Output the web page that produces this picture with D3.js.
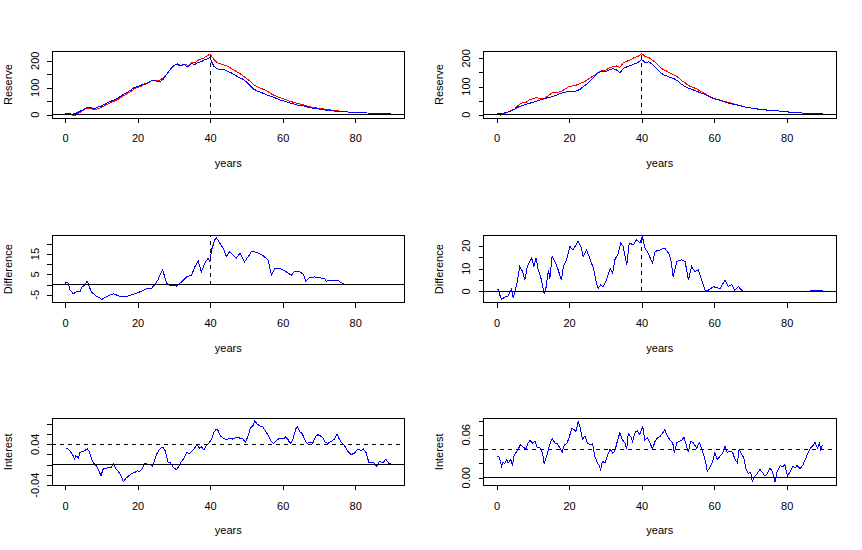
<!DOCTYPE html>
<html>
<head>
<meta charset="utf-8">
<script src="https://cdn.jsdelivr.net/npm/d3@7"></script>
<style>
  body { margin: 0; background: #fff; }
  text { font-family: Arial, "Liberation Sans", sans-serif; font-size: 11px; fill: #000; }
</style>
</head>
<body>
<div id="vis"></div>
<script>
const FRAME_WIDTH = 862;
const FRAME_HEIGHT = 550;

// x axis shared by every panel (years 0..90, R style 4% padding)
const X_TICKS = [0, 20, 40, 60, 80];

// ---- Reserve, left column ----
const reserveLeftRed = [[0,2.5],[1,3],[2,-2],[3,-2],[4,8],[5,16],[6,25],[7,24],[8,18],[9,22],[10,27],
  [11,35],[12,41],[13,47],[14,53],[15,60],[16,70],[17,77],[18,85],[19,95],[20,101],[21,106],[22,113],
  [23,118],[24,127],[25,125],[26,126],[27,136],[28,150],[29,168],[30,182],[31,188],[32,181],[33,188],
  [34,182],[35,195],[36,195],[37,205],[38,208],[39,217],[40,225],[41,205],[42,193],[43,188],[44,184],
  [45,178],[46,170],[47,162],[48,154],[49,145],[50,135],[51,124],[52,111],[53,104],[54,98],[55,92],
  [56,85],[57,76],[58,70],[59,64],[60,60],[61,55],[62,50],[63,46],[64,42],[65,39],[66,36],[67,31],
  [68,28],[69,26],[70,24],[71,22],[72,19],[73,18],[74,16],[75,15],[76,13],[77,12]];
const reserveLeftBlue = [[0,3],[1,4],[2,2],[3,5],[4,12],[5,18],[6,26],[7,26],[8,22],[9,28],[10,32],
  [11,40],[12,46],[13,52],[14,58],[15,65],[16,75],[17,82],[18,90],[19,100],[20,105],[21,110],[22,115],
  [23,120],[24,128],[25,125],[26,122],[27,130],[28,150],[28.5,158],[29,168],[29.5,176],[30,182],
  [30.5,186],[31,188],[31.5,182],[32,180],[32.5,186],[33,185],[33.5,178],[34,178],[34.5,186],[35,190],
  [35.5,186],[36,188],[36.5,192],[37,195],[37.5,196],[38,200],[38.5,204],[39,206],[39.5,208],[40,213],
  [40.3,200],[41,180],[42,170],[43,168],[44,166],[45,160],[46,154],[47,146],[48,138],[49,132],[50,122],
  [51,108],[52,95],[53,88],[54,83],[55,77],[56,72],[57,67],[58,62],[59,56],[60,52],[61,48],[62,43],
  [63,40],[64,36],[65,34],[66,32],[67,28],[68,25],[69,23],[70,21],[71,19],[72,17],[73,16],[74,14],
  [75,13],[76,12],[78,10],[80,8],[84,6],[84.2,4],[90,3]];

// ---- Reserve, right column ----
const reserveRightRed = [[0,4],[1,-2],[2,4],[3,8],[4,14],[5,20],[6,33],[7,42],[8,42],[9,52],[10,57],
  [11,60],[12,58],[13,55],[14,65],[15,75],[16,80],[17,80],[18,84],[19,92],[20,100],[21,102],[22,105],
  [23,111],[24,115],[25,123],[26,132],[27,140],[28,150],[29,157],[30,157],[31,166],[32,170],[33,173],
  [34,168],[35,185],[36,190],[37,195],[38,203],[39,207],[40,217],[41,206],[42,203],[43,193],[44,183],
  [45,170],[46,160],[47,154],[48,147],[49,140],[50,133],[51,121],[52,113],[53,103],[54,97],[55,93],
  [56,85],[57,78],[58,70],[59,63],[60,58],[61,54],[62,50],[63,47],[64,43],[65,40],[66,36],[67,33],[68,30]];
const reserveRightBlue = [[0,3],[1,4],[2,6],[3,9],[4,13],[5,20],[6,27],[7,32],[8,36],[9,40],[10,44],
  [11,48],[12,52],[13,56],[14,60],[15,63],[16,67],[17,72],[18,77],[19,80],[20,82],[21,83],[22,84],
  [23,90],[24,100],[25,110],[26,122],[27,135],[28,148],[29,155],[30,152],[31,158],[32,163],[33,160],
  [34,148],[35,165],[36,170],[37,175],[38,180],[39,185],[40,196],[41,185],[42,188],[43,178],[44,165],
  [45,152],[46,142],[47,137],[48,132],[49,127],[50,120],[51,108],[52,100],[53,94],[54,89],[55,84],
  [56,79],[57,74],[58,68],[59,62],[60,57],[61,53],[62,49],[63,45],[64,41],[65,38],[66,35],[67,32],
  [68,29],[69,26],[70,24],[71,22],[72,20],[73,19],[74,17],[75,16],[76,15],[78,13],[80,11],[81,8],
  [84,6],[90,3]];

// ---- Difference ----
const diffLeft = [[0,0.5],[0.5,1.3],[0.9,0.5],[1.4,-2.8],[2.3,-4.5],[3.2,-3.3],[4.1,-3.6],[4.6,-1.2],
  [5.5,-0.3],[6.1,1.7],[6.7,-1.2],[7.3,-3.6],[8.3,-5.3],[9.6,-6.6],[10.1,-7.3],[11.5,-5.8],[13.3,-4.5],
  [15.1,-5.8],[17,-5.8],[18.8,-4.8],[20.6,-3.6],[22.5,-2],[23.9,-1.7],[24.8,0],[25.7,2.6],[26.1,4.6],
  [26.9,7.1],[27.5,3.8],[28,0.5],[28.9,-0.3],[30.7,-0.7],[32.1,1.3],[33.5,3.8],[34.9,4.6],[35.8,8.8],
  [36.7,11.6],[37.6,6.3],[38.5,10.4],[39.4,12.9],[39.9,11.2],[40.4,17],[41.3,22],[41.7,23.1],[42.7,20.3],
  [43.6,17.9],[44.5,13.7],[45.4,16.2],[46.3,14.5],[47.2,12.9],[48.2,15.4],[49.5,11.2],[50.5,13.7],
  [51.4,16.2],[52.8,15.9],[54.6,14.2],[56,12],[56.9,4.6],[57.8,7.9],[59.2,7.9],[61,6.3],[62.4,4.6],
  [63.3,6.6],[64.7,6.3],[65.8,5],[66.3,1.7],[67.4,3.3],[68.8,3.8],[70.2,3.3],[71.6,3],[72,1.7],
  [73.9,2.1],[75.2,2.1],[76.1,1],[77,0.2]];
const diffRight = [[0,0.6],[0.5,1],[0.9,-1.6],[1.4,-3.4],[2.3,-2.4],[3.2,-1.9],[3.7,0],[4.1,1],[4.6,-2.8],
  [5.1,0],[5.7,4.3],[6.4,10.9],[7.2,8.7],[7.8,5],[8.5,10.9],[9.2,13.1],[9.7,14.6],[10.3,10.9],[10.9,14.6],
  [11.5,9.4],[12.4,5],[13.1,-0.9],[13.6,1.3],[14.3,9.4],[14.7,5.7],[15.3,15.3],[16.1,13.1],[17,9.4],
  [17.9,5],[18.4,10.9],[19.3,13.8],[20.2,19.7],[21.1,18.2],[22.5,21.9],[23.4,19],[23.9,15.3],[24.8,18.2],
  [25.7,14.6],[26.7,10.1],[27.6,3.5],[28,1.3],[28.7,2.8],[29.4,2.1],[30.3,5],[31.3,10.1],[32,7.9],
  [32.6,13.8],[33.6,16.8],[34.2,21.2],[34.9,19.7],[35.9,11.6],[36.6,21.2],[37.7,20.4],[38.6,22.6],
  [39.5,21.2],[40.2,24.1],[40.9,19],[41.8,16.8],[43,12.4],[43.7,17.5],[45.1,18.2],[46.4,19],[47.4,16.8],
  [48,14.6],[48.7,6.5],[49.7,13.1],[51,13.8],[52,13.1],[52.9,5],[53.8,10.9],[54.7,8.7],[55.6,9.4],
  [56.6,5],[57.5,0.6],[58.4,0.6],[59.8,2.1],[61.6,1.3],[63,5],[63.9,2.1],[64.8,3.1],[65.7,0.6],
  [66.7,2.1],[67.6,0.6],[68,0.3],[68.5,NaN],[86.4,0.4],[90,0.4]];

// ---- Interest ----
const interestLeft = [[0.2,0.0312],[0.9,0.0306],[1.4,0.026],[2.1,0.0195],[2.6,0.011],[3,0.0176],
  [3.7,0.013],[4.1,0.024],[4.9,0.026],[5.5,0.028],[6.1,0.031],[6.7,0.026],[7.3,0.011],[8,0.002],
  [8.7,-0.003],[9.4,-0.013],[9.9,-0.0215],[10.6,-0.0065],[11.3,-0.0085],[11.9,-0.0046],[12.6,-0.0065],
  [13.3,0.002],[14,-0.0085],[14.7,-0.013],[15.3,-0.0195],[16.1,-0.033],[16.8,-0.026],[17.4,-0.0228],
  [18.3,-0.0176],[19.3,-0.015],[19.9,-0.0117],[20.6,-0.013],[21.4,-0.0065],[22,0.0033],[22.9,0],
  [23.6,0],[24.1,-0.003],[24.8,0.011],[25.4,0.0228],[26.1,0.0306],[26.9,0.0345],[27.5,0.0293],
  [28,0.0163],[28.4,0.0046],[29.1,0.0033],[29.8,-0.0046],[30.7,-0.0098],[31.5,-0.002],[32.1,0.0065],
  [32.8,0.013],[33.5,0.024],[34.2,0.0215],[34.9,0.026],[35.5,0.0306],[36.4,0.039],[37,0.0325],
  [37.6,0.0345],[38.3,0.0293],[39,0.039],[39.7,0.042],[40.4,0.05],[41,0.063],[41.7,0.0696],[42.2,0.067],
  [42.8,0.0566],[43.6,0.052],[44.5,0.0488],[45.4,0.052],[46.3,0.05],[47.2,0.054],[48.2,0.052],
  [49.1,0.05],[49.7,0.0436],[50.5,0.0566],[51.1,0.0715],[51.8,0.076],[52.3,0.0855],[52.9,0.08],
  [53.7,0.076],[54.6,0.0735],[55.5,0.063],[56.2,0.0553],[56.9,0.0455],[57.5,0.042],[58.3,0.0475],
  [59.2,0.052],[60.1,0.05],[60.8,0.054],[61.5,0.0488],[62.1,0.041],[62.8,0.0488],[63.6,0.0696],
  [64,0.0748],[64.7,0.065],[65.4,0.0605],[66.1,0.0488],[66.7,0.042],[67.4,0.0436],[68.3,0.042],
  [69.1,0.0553],[69.7,0.0585],[70.4,0.0566],[71.1,0.052],[71.8,0.0436],[72.5,0.042],[73.4,0.0455],
  [74.3,0.05],[75,0.0605],[75.7,0.0488],[76.4,0.042],[77.1,0.037],[78,0.026],[78.9,0.0195],
  [79.8,0.0228],[80.7,0.0306],[81.7,0.028],[82.3,0.0306],[83,0.024],[83.8,0.0033],[84.4,0.0046],
  [85.3,0.0033],[85.9,-0.003],[86.7,0.0065],[87.6,0.0033],[88.5,0.011],[89.3,0.002],[89.9,0.002]];
const interestRight = [[0,0.03],[0.6,0.03],[0.9,0.0254],[1.4,0.0162],[1.8,0.0217],[2.3,0.0198],
  [2.8,0.0254],[3.2,0.0208],[3.9,0.0254],[4.4,0.0171],[4.8,0.03],[5.3,0.0346],[6,0.0402],[6.6,0.0462],
  [7.4,0.0429],[8.1,0.0402],[8.7,0.0485],[9.2,0.0522],[9.9,0.0485],[10.6,0.0508],[11.2,0.0429],
  [12,0.0415],[12.7,0.0346],[13.1,0.0198],[13.8,0.03],[14.3,0.0392],[14.9,0.0508],[15.4,0.054],
  [16.1,0.0485],[16.7,0.0475],[17.5,0.0415],[18.1,0.0355],[18.7,0.0462],[19.3,0.0475],[20,0.0554],
  [20.7,0.0692],[21.3,0.0678],[21.9,0.0646],[22.5,0.0785],[23,0.0715],[23.7,0.054],[24.4,0.0586],
  [25,0.0485],[25.7,0.0462],[26.5,0.0475],[27.1,0.03],[27.8,0.0208],[28.3,0.0171],[28.7,0.0115],
  [29.2,0.023],[29.9,0.0208],[30.5,0.03],[31.3,0.0402],[32,0.0346],[32.6,0.0369],[33.3,0.0508],
  [34,0.0632],[34.7,0.0531],[35.4,0.0485],[35.9,0.0402],[36.3,0.0614],[37,0.0577],[37.5,0.0508],
  [38.2,0.0632],[38.8,0.066],[39.5,0.06],[40.3,0.0715],[40.9,0.0531],[41.6,0.0554],[42.3,0.0485],
  [43,0.0402],[43.7,0.0508],[44.3,0.0554],[45.1,0.0577],[45.8,0.0623],[46.4,0.0669],[47.1,0.0586],
  [47.8,0.0531],[48.6,0.0485],[49,0.0346],[49.7,0.0494],[50.4,0.0508],[51,0.0522],[51.7,0.0568],
  [52.4,0.0438],[52.9,0.0355],[53.5,0.0508],[54.3,0.0485],[55.2,0.0415],[55.9,0.0494],[56.6,0.0402],
  [57.2,0.03],[57.7,0.0208],[58.1,0.0092],[58.8,0.0138],[59.6,0.023],[60.2,0.0355],[60.9,0.0254],
  [61.6,0.03],[62.3,0.0337],[63,0.0448],[63.6,0.0355],[64.4,0.0369],[65.1,0.0355],[65.7,0.0263],
  [66.4,0.0208],[66.9,0.0402],[67.6,0.0323],[68.2,0.0277],[68.8,0.0115],[69.4,0.006],[70.1,0.0078],
  [70.5,-0.0046],[71.3,0.0023],[71.9,0.006],[72.6,0.0115],[73.3,0.0078],[74,0.0023],[74.7,0.006],
  [75.4,0.0138],[76.1,0.0078],[76.8,-0.006],[77.4,0.0092],[78.2,0.0171],[78.9,0.0152],[79.5,0.0185],
  [80.2,0.0023],[80.9,0.0078],[81.7,0.0162],[82.3,0.0138],[82.9,0.0171],[83.7,0.0125],[84.4,0.0171],
  [85.1,0.0254],[85.7,0.0323],[86.4,0.0402],[87.2,0.0448],[87.8,0.0494],[88.5,0.0415],[89,0.0485],
  [89.4,0.0392],[89.9,0.0462]];

// ---- layout ----
const COL_LEFT = [52, 483.5];
const ROW_TOP = [51, 235.7, 418.3];
const PW = 352.5, PH = 67;
const X_DOMAIN = [-3.6, 93.6];

const fmtInt = (d) => String(d);
const fmt2 = (d) => d.toFixed(2);

const panels = [
  {col: 0, row: 0, ylab: "Reserve", yDomain: [-12.2, 236.2], yTicks: [0, 50, 100, 150, 200],
   yLabels: [0, 100, 200], fmt: fmtInt, series: [[reserveLeftRed, "#FF0000"], [reserveLeftBlue, "#0000FF"]],
   hSolid: [0], hDash: [], vDash: true},
  {col: 1, row: 0, ylab: "Reserve", yDomain: [-11.8, 226], yTicks: [0, 50, 100, 150, 200],
   yLabels: [0, 100, 200], fmt: fmtInt, series: [[reserveRightRed, "#FF0000"], [reserveRightBlue, "#0000FF"]],
   hSolid: [0], hDash: [], vDash: true},
  {col: 0, row: 1, ylab: "Difference", yDomain: [-8.9, 24], yTicks: [-5, 0, 5, 10, 15, 20],
   yLabels: [-5, 5, 15], fmt: fmtInt, series: [[diffLeft, "#0000FF"]],
   hSolid: [0], hDash: [], vDash: true},
  {col: 1, row: 1, ylab: "Difference", yDomain: [-4.9, 24.4], yTicks: [0, 5, 10, 15, 20],
   yLabels: [0, 10, 20], fmt: fmtInt, series: [[diffRight, "#0000FF"]],
   hSolid: [0], hDash: [], vDash: true},
  {col: 0, row: 2, ylab: "Interest", yDomain: [-0.0402, 0.0907], yTicks: [-0.04, -0.02, 0, 0.02, 0.04, 0.06, 0.08],
   yLabels: [-0.04, 0.04], fmt: fmt2, series: [[interestLeft, "#0000FF"]],
   hSolid: [0], hDash: [0.04], vDash: false},
  {col: 1, row: 2, ylab: "Interest", yDomain: [-0.0106, 0.0831], yTicks: [0, 0.02, 0.04, 0.06, 0.08],
   yLabels: [0, 0.06], fmt: fmt2, series: [[interestRight, "#0000FF"]],
   hSolid: [0], hDash: [0.04], vDash: false}
];

const svg = d3.select("#vis")
  .append("svg")
    .attr("width", FRAME_WIDTH)
    .attr("height", FRAME_HEIGHT);

panels.forEach((p, i) => {
  const g = svg.append("g")
      .attr("transform", "translate(" + COL_LEFT[p.col] + "," + ROW_TOP[p.row] + ")");

  const X_SCALE = d3.scaleLinear().domain(X_DOMAIN).range([0, PW]);
  const Y_SCALE = d3.scaleLinear().domain(p.yDomain).range([PH, 0]);

  // clip everything inside the box like R's plot region
  const clipId = "clip" + i;
  g.append("clipPath").attr("id", clipId)
    .append("rect").attr("width", PW).attr("height", PH);
  const inner = g.append("g").attr("clip-path", "url(#" + clipId + ")");

  // R draws these without anti-aliasing, so keep the edges hard
  const line = d3.line()
      .defined((d) => !isNaN(d[1]))
      .x((d) => X_SCALE(d[0]))
      .y((d) => Y_SCALE(d[1]));

  p.series.forEach(([data, color]) => {
    inner.append("path")
        .datum(data)
        .attr("d", line)
        .attr("fill", "none")
        .attr("stroke", color)
        .attr("stroke-width", 1)
        .attr("shape-rendering", "crispEdges");
  });

  p.hSolid.forEach((v) => {
    inner.append("line")
        .attr("x1", 0).attr("x2", PW)
        .attr("y1", Y_SCALE(v)).attr("y2", Y_SCALE(v))
        .attr("stroke", "#000").attr("stroke-width", 1)
        .attr("shape-rendering", "crispEdges");
  });
  p.hDash.forEach((v) => {
    inner.append("line")
        .attr("x1", 0).attr("x2", PW)
        .attr("y1", Y_SCALE(v)).attr("y2", Y_SCALE(v))
        .attr("stroke", "#000").attr("stroke-width", 1)
        .attr("stroke-dasharray", "4,4")
        .attr("shape-rendering", "crispEdges");
  });
  if (p.vDash) {
    inner.append("line")
        .attr("x1", X_SCALE(40)).attr("x2", X_SCALE(40))
        .attr("y1", Y_SCALE(0)).attr("y2", 0)
        .attr("stroke", "#000").attr("stroke-width", 1)
        .attr("stroke-dasharray", "4,4")
        .attr("shape-rendering", "crispEdges");
  }

  // box
  g.append("rect")
      .attr("width", PW).attr("height", PH)
      .attr("fill", "none").attr("stroke", "#000").attr("stroke-width", 1)
      .attr("shape-rendering", "crispEdges");

  // x axis
  const xAxis = g.append("g")
      .attr("transform", "translate(0," + PH + ")")
      .call(d3.axisBottom(X_SCALE).tickValues(X_TICKS).tickSize(5).tickSizeOuter(0)
            .tickFormat(fmtInt));
  xAxis.select(".domain").remove();
  xAxis.selectAll("line").attr("shape-rendering", "crispEdges");
  xAxis.selectAll("text")
      .attr("y", 20.5).attr("dy", "0.35em")
      .attr("font-size", "11px").attr("font-family", "Arial, 'Liberation Sans', sans-serif")
      .attr("fill", "#000");

  // y axis, labels rotated like R's las = 0
  const yAxis = g.append("g")
      .call(d3.axisLeft(Y_SCALE).tickValues(p.yTicks).tickSize(5).tickSizeOuter(0)
            .tickFormat(""));
  yAxis.select(".domain").remove();
  yAxis.selectAll("line").attr("shape-rendering", "crispEdges");
  p.yLabels.forEach((v) => {
    g.append("text")
        .attr("transform", "translate(-17," + Y_SCALE(v) + ") rotate(-90)")
        .attr("text-anchor", "middle")
        .attr("dy", "0.35em")
        .text(p.fmt(v));
  });

  // titles
  g.append("text")
      .attr("x", PW / 2).attr("y", PH + 45)
      .attr("dy", "0.35em")
      .attr("text-anchor", "middle")
      .text("years");
  g.append("text")
      .attr("transform", "translate(-44," + (PH / 2) + ") rotate(-90)")
      .attr("text-anchor", "middle")
      .attr("dy", "0.35em")
      .text(p.ylab);
});
</script>
</body>
</html>
